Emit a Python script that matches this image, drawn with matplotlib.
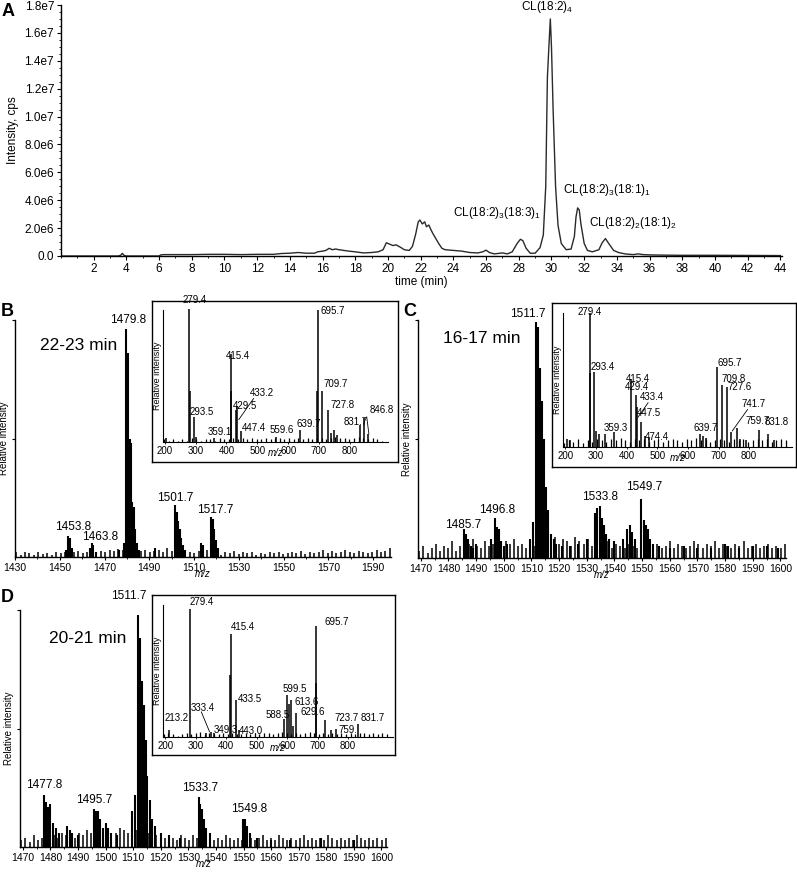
import numpy as np
import matplotlib
matplotlib.use("Agg")
import matplotlib.pyplot as plt
from matplotlib.ticker import MultipleLocator, FuncFormatter

plt.rcParams['font.family'] = ['Liberation Sans', 'DejaVu Sans']
plt.rcParams['mathtext.fontset'] = 'custom'
plt.rcParams['mathtext.rm'] = 'Liberation Sans'
plt.rcParams['mathtext.it'] = 'Liberation Sans:italic'
plt.rcParams['mathtext.default'] = 'regular'

W, H = 797, 872

# ---------------- panel A: chromatogram ----------------
time_min = [0, 3.5, 3.65, 3.75, 3.85, 4.0, 6.0, 6.1, 6.3, 8, 9, 10, 11, 12, 13, 13.5, 14, 14.5,
            15, 15.5, 15.7, 16.0, 16.2, 16.4, 16.6, 16.8, 17.0, 17.3, 17.6, 18.0, 18.5, 19.0,
            19.4, 19.7, 19.9, 20.1, 20.3, 20.5, 20.8, 21.0, 21.3, 21.5, 21.7, 21.85, 21.95,
            22.1, 22.25, 22.35, 22.5, 22.6, 22.75, 22.9, 23.1, 23.3, 23.5, 24.0, 24.5, 25.0,
            25.5, 25.8, 26.0, 26.2, 26.5, 27.0, 27.3, 27.6, 27.9, 28.1, 28.25, 28.45, 28.7,
            29.0, 29.3, 29.5, 29.65, 29.75, 29.85, 29.93, 30.0, 30.1, 30.25, 30.4, 30.6, 30.9,
            31.2, 31.4, 31.5, 31.6, 31.7, 31.8, 32.0, 32.2, 32.5, 32.9, 33.1, 33.3, 33.5, 33.8,
            34.1, 34.5, 35.0, 35.3, 35.6, 36.0, 37, 38, 40, 42, 44]
intensity_e6 = [0, 0, 0.05, 0.19, 0.05, 0, 0, 0.08, 0.1, 0.1, 0.12, 0.12, 0.1, 0.12, 0.12, 0.18,
                0.2, 0.25, 0.2, 0.2, 0.3, 0.35, 0.4, 0.55, 0.45, 0.5, 0.45, 0.4, 0.35, 0.3, 0.22,
                0.25, 0.3, 0.45, 0.95, 0.85, 0.75, 0.8, 0.6, 0.45, 0.4, 0.7, 1.6, 2.45, 2.58,
                2.3, 2.45, 2.1, 2.22, 1.95, 1.6, 1.3, 0.9, 0.55, 0.45, 0.4, 0.35, 0.25, 0.22,
                0.3, 0.42, 0.25, 0.15, 0.22, 0.15, 0.3, 0.9, 1.2, 1.1, 0.55, 0.2, 0.2, 0.6, 1.5,
                5.0, 12.8, 15.2, 17.0, 15.0, 10.5, 5.0, 2.2, 0.9, 0.45, 0.5, 1.4, 2.8, 3.45, 3.3,
                2.3, 0.9, 0.4, 0.3, 0.45, 0.95, 1.25, 0.9, 0.4, 0.25, 0.15, 0.1, 0.15, 0.1, 0.08,
                0.06, 0.05, 0.05, 0.04, 0.03]

cl_names = ["CL(18:2)$_4$", "CL(18:2)$_3$(18:3)$_1$", "CL(18:2)$_3$(18:1)$_1$",
            "CL(18:2)$_2$(18:1)$_2$"]
cl_x = [29.75, 26.67, 33.4, 35.0]
cl_y = [17.85e6, 3.1e6, 4.75e6, 2.4e6]

# ---------------- panel B: 22-23 min ----------------
b_mz = [1452.8, 1453.8, 1454.6, 1455.5, 1463.5, 1464.2, 1465.0, 1466.0, 1476.5, 1478.8,
        1479.8, 1480.6, 1481.2, 1481.8, 1482.4, 1483.0, 1483.8, 1484.6, 1485.5, 1492.5,
        1501.7, 1502.3, 1502.9, 1503.5, 1504.2, 1505.0, 1506.0, 1513.3, 1514.0, 1517.7,
        1518.4, 1519.1, 1519.8, 1520.5]
b_rel = [0.03, 0.09, 0.08, 0.04, 0.04, 0.06, 0.05, 0.02, 0.03, 0.06,
         0.96, 0.86, 0.5, 0.48, 0.23, 0.21, 0.12, 0.06, 0.03, 0.04,
         0.22, 0.19, 0.15, 0.12, 0.08, 0.05, 0.03, 0.06, 0.05, 0.17,
         0.16, 0.12, 0.07, 0.04]
b_noise = [0.02, 0.01, 0.02, 0.015, 0.01, 0.02, 0.012, 0.018, 0.01, 0.02,
           0.015, 0.022, 0.012, 0.02, 0.025, 0.015, 0.02, 0.03, 0.02, 0.025,
           0.02, 0.03, 0.025, 0.035, 0.03, 0.04, 0.03, 0.035, 0.025, 0.03,
           0.02, 0.025, 0.03, 0.02, 0.04, 0.025, 0.02, 0.03, 0.025, 0.02,
           0.015, 0.025, 0.02, 0.03, 0.015, 0.02, 0.01, 0.02, 0.015, 0.025,
           0.012, 0.02, 0.015, 0.022, 0.01, 0.018, 0.012, 0.02, 0.015, 0.022,
           0.012, 0.018, 0.02, 0.015, 0.025, 0.012, 0.02, 0.015, 0.022, 0.03,
           0.018, 0.025, 0.015, 0.02, 0.03, 0.022, 0.015, 0.025, 0.02, 0.018,
           0.022, 0.03, 0.02, 0.025, 0.04]
b_labels = ["1479.8", "1453.8", "1463.8", "1501.7", "1517.7"]
b_lab_x = [1480.5, 1455.9, 1468.0, 1501.8, 1519.3]
b_lab_y = [1.0, 0.128, 0.086, 0.25, 0.2]

bi_mz = [205, 279.4, 280.6, 293.5, 300, 359.1, 413.0, 415.4, 429.5, 433.2, 447.4, 559.6,
         639.7, 694.0, 695.7, 709.7, 727.8, 740, 750, 760, 831.7, 846.8, 859]
bi_rel = [0.03, 1.01, 0.39, 0.19, 0.04, 0.03, 0.39, 0.67, 0.24, 0.27, 0.08, 0.04,
          0.09, 0.39, 1.0, 0.39, 0.24, 0.07, 0.09, 0.05, 0.13, 0.18, 0.06]
bi_noise = [0.02, 0.01, 0.02, 0.01, 0.02, 0.01, 0.03, 0.02, 0.01, 0.02, 0.02, 0.01, 0.03, 0.02,
            0.02, 0.03, 0.02, 0.03, 0.02, 0.03, 0.02, 0.02, 0.03, 0.02, 0.03, 0.03, 0.02, 0.03,
            0.02, 0.03, 0.02, 0.03, 0.02, 0.03, 0.03, 0.02, 0.03, 0.04, 0.03, 0.03, 0.02, 0.03,
            0.04, 0.03, 0.02, 0.03, 0.02, 0.01]
bi_labels = ["279.4", "415.4", "293.5", "433.2", "429.5", "359.1", "447.4", "559.6", "639.7",
             "695.7", "709.7", "727.8", "831.7", "846.8"]
bi_lab_x = [297, 438, 319, 515, 460, 377, 488, 580, 667, 743, 754, 776, 819, 905]
bi_lab_y = [1.075, 0.65, 0.23, 0.37, 0.27, 0.076, 0.106, 0.09, 0.14, 0.99, 0.44, 0.28, 0.15, 0.24]

# ---------------- panel C: 16-17 min ----------------
c_mz = [1485.7, 1486.4, 1487.1, 1488, 1489, 1490, 1495.5, 1496.8, 1497.5, 1498.2, 1499, 1500,
        1501, 1509.5, 1510.7, 1511.7, 1512.4, 1513.1, 1513.8, 1514.5, 1515.2, 1516, 1517, 1518,
        1519, 1521, 1524, 1527, 1530, 1532.8, 1533.8, 1534.6, 1535.4, 1536.2, 1537, 1538, 1540,
        1543, 1544.5, 1545.5, 1546.5, 1547.5, 1549.7, 1550.5, 1551.3, 1552.1, 1553, 1554, 1556,
        1560, 1565, 1570, 1575, 1580, 1581, 1585, 1590, 1595, 1599]
c_rel = [0.12, 0.10, 0.08, 0.05, 0.04, 0.06, 0.08, 0.17, 0.13, 0.12, 0.07, 0.05,
         0.06, 0.08, 0.15, 0.99, 0.97, 0.8, 0.66, 0.5, 0.3, 0.2, 0.1, 0.08,
         0.06, 0.05, 0.05, 0.06, 0.08, 0.19, 0.21, 0.22, 0.17, 0.14, 0.1, 0.08, 0.07,
         0.08, 0.12, 0.14, 0.11, 0.08, 0.25, 0.16, 0.14, 0.12, 0.08, 0.06, 0.05,
         0.04, 0.05, 0.04, 0.04, 0.06, 0.05, 0.04, 0.05, 0.05, 0.04]
c_noise = [0.03, 0.05, 0.02, 0.04, 0.06, 0.03, 0.05, 0.04, 0.07, 0.03,
           0.05, 0.04, 0.06, 0.08, 0.05, 0.04, 0.07, 0.05, 0.06, 0.04,
           0.05, 0.07, 0.06, 0.08, 0.05, 0.06, 0.04, 0.07, 0.05, 0.06,
           0.08, 0.06, 0.07, 0.09, 0.06, 0.08, 0.07, 0.05, 0.09, 0.07,
           0.06, 0.08, 0.05, 0.07, 0.06, 0.05, 0.07, 0.04, 0.06, 0.05,
           0.04, 0.06, 0.05, 0.04, 0.05, 0.03, 0.05, 0.04, 0.06, 0.04,
           0.05, 0.07, 0.04, 0.06, 0.05, 0.04, 0.05, 0.07, 0.06, 0.04,
           0.06, 0.05, 0.07, 0.04, 0.06, 0.05, 0.04, 0.06, 0.05, 0.07,
           0.04, 0.05, 0.06, 0.04, 0.05, 0.06, 0.04, 0.05, 0.04, 0.06]
c_labels = ["1511.7", "1485.7", "1496.8", "1533.8", "1549.7"]
c_lab_x = [1508.8, 1485.2, 1497.6, 1534.8, 1550.9]
c_lab_y = [1.024, 0.14, 0.2, 0.255, 0.3]

ci_mz = [205, 215, 279.4, 281, 293.4, 300, 310, 330, 359.3, 415.4, 429.4, 433.4, 447.5,
         460, 474.4, 639.7, 650, 660, 695.7, 709.8, 727.6, 741.7, 759.7, 770, 790, 831.8,
         860, 880]
ci_rel = [0.06, 0.05, 1.0, 0.55, 0.56, 0.12, 0.1, 0.1, 0.11, 0.51, 0.39, 0.3, 0.19,
          0.08, 0.07, 0.1, 0.08, 0.07, 0.6, 0.46, 0.45, 0.11, 0.14, 0.06, 0.05, 0.13,
          0.1, 0.05]
ci_noise = [0.03, 0.05, 0.04, 0.06, 0.03, 0.05, 0.04, 0.06, 0.05, 0.04, 0.06, 0.05, 0.07, 0.05,
            0.04, 0.06, 0.05, 0.06, 0.04, 0.05, 0.06, 0.04, 0.05, 0.06, 0.05, 0.04, 0.06, 0.05,
            0.07, 0.05, 0.06, 0.04, 0.05, 0.06, 0.05, 0.04, 0.06, 0.05, 0.06, 0.04, 0.05, 0.06,
            0.05, 0.06, 0.04, 0.05, 0.06, 0.05]
ci_labels = ["279.4", "293.4", "415.4", "429.4", "433.4", "447.5", "474.4", "359.3", "639.7",
             "695.7", "709.8", "727.6", "741.7", "759.7", "831.8"]
ci_lab_x = [279, 323, 435, 435, 483, 473, 497, 366, 658, 737, 748, 769, 813, 829, 889]
ci_lab_y = [1.01, 0.6, 0.505, 0.445, 0.375, 0.255, 0.075, 0.14, 0.145, 0.63, 0.505, 0.445,
            0.32, 0.195, 0.19]

# ---------------- panel D: 20-21 min ----------------
d_mz = [1477.8, 1478.5, 1479.2, 1480, 1481, 1482, 1483, 1486, 1487, 1488, 1490, 1495.7,
        1496.5, 1497.3, 1498.1, 1499, 1500, 1501, 1502, 1504, 1509.5, 1510.7, 1511.7, 1512.4,
        1513.1, 1513.8, 1514.5, 1515.2, 1516, 1517, 1518, 1520, 1523, 1527, 1533.7, 1534.4,
        1535.1, 1535.8, 1536.5, 1538, 1549.8, 1550.6, 1551.4, 1552.2, 1555, 1560, 1567, 1578,
        1590]
d_rel = [0.22, 0.19, 0.17, 0.18, 0.1, 0.08, 0.06, 0.09, 0.07, 0.06, 0.05, 0.16,
         0.15, 0.15, 0.12, 0.08, 0.1, 0.08, 0.06, 0.05, 0.15, 0.22, 0.98, 0.88,
         0.7, 0.6, 0.45, 0.3, 0.2, 0.12, 0.09, 0.06, 0.05, 0.04, 0.21, 0.18,
         0.16, 0.12, 0.08, 0.06, 0.12, 0.12, 0.09, 0.06, 0.04, 0.03, 0.03, 0.04,
         0.03]
d_noise = [0.03, 0.04, 0.02, 0.05, 0.03, 0.04, 0.06, 0.03, 0.05, 0.04,
           0.06, 0.05, 0.07, 0.04, 0.06, 0.05, 0.07, 0.06, 0.05, 0.08,
           0.06, 0.07, 0.05, 0.06, 0.08, 0.07, 0.06, 0.05, 0.07, 0.06,
           0.05, 0.06, 0.04, 0.05, 0.06, 0.04, 0.05, 0.04, 0.03, 0.05,
           0.04, 0.03, 0.05, 0.04, 0.03, 0.04, 0.05, 0.03, 0.04, 0.03,
           0.05, 0.04, 0.03, 0.04, 0.03, 0.05, 0.04, 0.03, 0.04, 0.05,
           0.03, 0.04, 0.03, 0.05, 0.04, 0.03, 0.04, 0.03, 0.04, 0.05,
           0.03, 0.04, 0.03, 0.04, 0.03, 0.05, 0.04, 0.03, 0.04, 0.03,
           0.04, 0.03, 0.05, 0.04, 0.03, 0.04, 0.03, 0.04, 0.03, 0.04]
d_labels = ["1511.7", "1477.8", "1495.7", "1533.7", "1549.8"]
d_lab_x = [1508.3, 1477.8, 1495.8, 1534.2, 1552.2]
d_lab_y = [1.057, 0.26, 0.197, 0.247, 0.162]

di_mz = [213.2, 279.4, 333.4, 349.3, 360, 413.5, 415.4, 433.5, 443.0, 588.5, 599.5, 606,
         613.6, 620, 629.6, 694.0, 695.7, 723.7, 745, 759, 831.7]
di_rel = [0.056, 0.97, 0.03, 0.04, 0.03, 0.47, 0.78, 0.28, 0.05, 0.14, 0.32, 0.25,
          0.28, 0.08, 0.18, 0.41, 0.84, 0.13, 0.05, 0.06, 0.1]
di_noise = [0.02, 0.03, 0.02, 0.01, 0.02, 0.03, 0.02, 0.03, 0.04, 0.02, 0.03, 0.02, 0.02, 0.03,
            0.02, 0.03, 0.02, 0.02, 0.03, 0.02, 0.03, 0.02, 0.03, 0.03, 0.02, 0.03, 0.04, 0.03,
            0.02, 0.03, 0.02, 0.03, 0.04, 0.03, 0.02, 0.03, 0.02, 0.03, 0.02, 0.03, 0.02, 0.03,
            0.02, 0.03, 0.03, 0.02, 0.03, 0.02, 0.03, 0.02]
di_labels = ["279.4", "415.4", "695.7", "213.2", "333.4", "349.3", "433.5", "443.0", "588.5",
             "599.5", "613.6", "629.6", "723.7", "759.", "831.7"]
di_lab_x = [318, 453, 762, 236, 323, 400, 477, 482, 570, 625, 663, 685, 795, 800, 882]
di_lab_y = [1.025, 0.83, 0.875, 0.147, 0.223, 0.05, 0.29, 0.045, 0.17, 0.36, 0.265, 0.19,
            0.147, 0.05, 0.147]


fig = plt.figure(figsize=(W / 100, H / 100), dpi=100)


def px_axes(l, t, r, b, **kw):
    return fig.add_axes([l / W, 1 - b / H, (r - l) / W, (b - t) / H], **kw)


def clean(ax):
    ax.spines['top'].set_visible(False)
    ax.spines['right'].set_visible(False)
    for s in ('left', 'bottom'):
        ax.spines[s].set_linewidth(1.0)


# ---- A ----
axA = px_axes(61, 5, 782, 256)
clean(axA)
axA.plot(time_min, np.array(intensity_e6) * 1e6, color='#2a2a2a', lw=1.0)
axA.set_xlim(0, 44.1)
axA.set_ylim(0, 1.8e7)
axA.xaxis.set_minor_locator(MultipleLocator(1))
axA.yaxis.set_major_locator(MultipleLocator(2e6))
axA.yaxis.set_minor_locator(MultipleLocator(5e5))
axA.set_xticks(np.arange(2, 45, 2))


def sci(v, pos):
    if v == 0:
        return "0.0"
    if v >= 1e7:
        return f"{v / 1e7:.1f}e7"
    return f"{v / 1e6:.1f}e6"


axA.yaxis.set_major_formatter(FuncFormatter(sci))
axA.tick_params(which='major', direction='out', length=3, width=0.8, labelsize=8.5, pad=2)
axA.tick_params(which='minor', direction='out', length=1.5, width=0.6)
axA.set_xlabel("time (min)", fontsize=8.5, labelpad=1)
axA.set_ylabel("Intensity, cps", fontsize=8.5, labelpad=4)
for name, x, y in zip(cl_names, cl_x, cl_y):
    axA.text(x, y, name, fontsize=8.5, ha='center', va='center')


def main_spectrum(ax, mz, rel, noise, xlim, major, minor, labels, lx, ly, tag, tag_xy):
    clean(ax)
    nx = np.linspace(xlim[0] + 0.5, xlim[1] - 0.5, len(noise))
    ax.vlines(nx, 0, noise, color='k', lw=1.1)
    ax.vlines(mz, 0, rel, color='k', lw=1.5)
    ax.set_xlim(*xlim)
    ax.set_ylim(0, 1.0)
    ax.set_xticks(major)
    ax.xaxis.set_minor_locator(MultipleLocator(minor))
    ax.set_yticks([0.5, 1.0])
    ax.set_yticklabels([])
    ax.tick_params(which='major', direction='out', length=2.5, width=0.8, labelsize=7.5, pad=1.5)
    ax.tick_params(which='minor', direction='out', length=1.5, width=0.6)
    ax.set_ylabel("Relative intensity", fontsize=7, labelpad=0.5)
    for t, x, y in zip(labels, lx, ly):
        ax.text(x, y, t, fontsize=8.5, ha='center', va='center', clip_on=False)
    ax.text(tag_xy[0], tag_xy[1], tag, fontsize=12.5, ha='center', va='center')
    ax.text(0.5, -0.07, "m/z", transform=ax.transAxes, fontsize=7, style='italic',
            ha='center', va='center')


def inset_spectrum(frame_box, inner_box, mz, rel, noise, xlim, labels, lx, ly, leaders):
    fr = px_axes(*frame_box)
    fr.set_xticks([])
    fr.set_yticks([])
    for s in fr.spines.values():
        s.set_linewidth(1.0)
    ax = px_axes(*inner_box)
    ax.patch.set_alpha(0)
    clean(ax)
    for s in ('left', 'bottom'):
        ax.spines[s].set_linewidth(0.8)
    nx = np.linspace(xlim[0] + 3, xlim[1] - 20, len(noise))
    ax.vlines(nx, 0, noise, color='k', lw=0.9)
    ax.vlines(mz, 0, rel, color='k', lw=1.1, clip_on=False)
    ax.set_xlim(*xlim)
    ax.set_ylim(0, 1.0)
    ax.set_xticks([200, 300, 400, 500, 600, 700, 800])
    ax.set_yticks([])
    ax.tick_params(direction='out', length=1.5, width=0.6, labelsize=7, pad=1.5)
    ax.set_ylabel("Relative intensity", fontsize=6.5, labelpad=1)
    for t, x, y in zip(labels, lx, ly):
        ax.text(x, y, t, fontsize=7, ha='center', va='center', clip_on=False)
    for (x0, y0, x1, y1) in leaders:
        ax.plot([x0, x1], [y0, y1], color='k', lw=0.6)
    ax.text(0.5, -0.085, "m/z", transform=ax.transAxes, fontsize=7, style='italic',
            ha='center', va='center')
    return ax


# ---- B ----
axB = px_axes(15, 320, 391, 557)
main_spectrum(axB, b_mz, b_rel, b_noise, (1430, 1598), np.arange(1430, 1591, 20), 10,
              b_labels, b_lab_x, b_lab_y, "22-23 min", (1458.6, 0.894))
inset_spectrum((152, 301, 398, 462), (163, 310, 388, 442), bi_mz, bi_rel, bi_noise,
               (194, 924), bi_labels, bi_lab_x, bi_lab_y,
               [(440, 0.17, 488, 0.33), (855, 0.19, 862, 0.06)])

# ---- C ----
axC = px_axes(418, 320, 786, 558)
main_spectrum(axC, c_mz, c_rel, c_noise, (1469, 1602), np.arange(1470, 1601, 10), 5,
              c_labels, c_lab_x, c_lab_y, "16-17 min", (1492, 0.924))
inset_spectrum((552, 303, 796, 467), (563, 313, 792, 447), ci_mz, ci_rel, ci_noise,
               (192, 940), ci_labels, ci_lab_x, ci_lab_y,
               [(436, 0.22, 470, 0.33), (745, 0.12, 795, 0.28)])

# ---- D ----
axD = px_axes(20, 610, 387, 847)
main_spectrum(axD, d_mz, d_rel, d_noise, (1469, 1602), np.arange(1470, 1601, 10), 5,
              d_labels, d_lab_x, d_lab_y, "20-21 min", (1493.5, 0.88))
inset_spectrum((152, 595, 395, 755), (163, 605, 393, 737), di_mz, di_rel, di_noise,
               (192, 948), di_labels, di_lab_x, di_lab_y,
               [(318, 0.19, 345, 0.04)])

# panel letters
for letter, (x, y) in zip("ABCD", [(8, 11), (7, 311), (410, 311), (7, 597)]):
    fig.text(x / W, 1 - y / H, letter, fontsize=13, fontweight='bold', ha='center', va='center')

fig.savefig("out.png", dpi=100)
